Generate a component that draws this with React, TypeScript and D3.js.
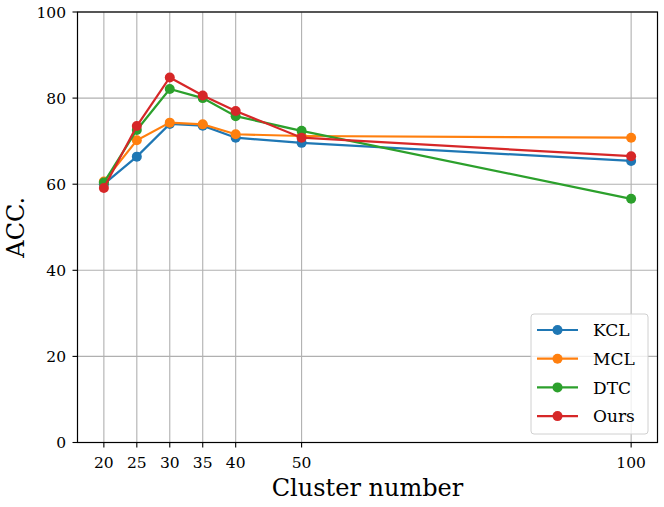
import React, { useEffect, useRef } from 'react';
import * as d3 from 'd3';

const clusters = [20, 25, 30, 35, 40, 50, 100];
const yTicks = [0, 20, 40, 60, 80, 100];

const methods = ['KCL', 'MCL', 'DTC', 'Ours'];
const colors = ['#1f77b4', '#ff7f0e', '#2ca02c', '#d62728'];

const kcl = [60.0, 66.4, 74.0, 73.6, 70.8, 69.6, 65.4];
const mcl = [60.6, 70.2, 74.3, 73.9, 71.6, 71.2, 70.8];
const dtc = [60.4, 72.6, 82.1, 80.0, 75.8, 72.4, 56.6];
const ours = [59.1, 73.5, 84.8, 80.6, 77.0, 70.8, 66.5];

const series = [kcl, mcl, dtc, ours];

const W = 664;
const H = 507;
const font = 'DejaVu Serif';

const App: React.FC = () => {
  const ref = useRef<SVGSVGElement>(null);

  useEffect(() => {
    const svg = d3.select(ref.current);
    svg.selectAll('*').remove();

    const left = 77.5, right = 657.5, top = 12, bottom = 442.5;

    const x = d3.scaleLinear().domain([16, 104]).range([left, right]);
    const y = d3.scaleLinear().domain([0, 100]).range([bottom, top]);

    const g = svg.append('g');

    // grid
    g.selectAll('.vgrid')
      .data(clusters)
      .enter().append('line')
      .attr('x1', d => x(d)).attr('x2', d => x(d))
      .attr('y1', top).attr('y2', bottom)
      .attr('stroke', '#b0b0b0').attr('stroke-width', 1.1);

    g.selectAll('.hgrid')
      .data(yTicks)
      .enter().append('line')
      .attr('x1', left).attr('x2', right)
      .attr('y1', d => y(d)).attr('y2', d => y(d))
      .attr('stroke', '#b0b0b0').attr('stroke-width', 1.1);

    // lines
    const line = d3.line<number>()
      .x((_, i) => x(clusters[i]))
      .y(d => y(d));

    series.forEach((s, k) => {
      g.append('path')
        .datum(s)
        .attr('d', line)
        .attr('fill', 'none')
        .attr('stroke', colors[k])
        .attr('stroke-width', 2.2);
      g.selectAll(`.pt-${k}`)
        .data(s)
        .enter().append('circle')
        .attr('cx', (_, i) => x(clusters[i]))
        .attr('cy', d => y(d))
        .attr('r', 5)
        .attr('fill', colors[k]);
    });

    // frame
    g.append('rect')
      .attr('x', left).attr('y', top)
      .attr('width', right - left).attr('height', bottom - top)
      .attr('fill', 'none').attr('stroke', '#000').attr('stroke-width', 1.2);

    // x ticks
    const xt = g.selectAll('.xt').data(clusters).enter().append('g');
    xt.append('line')
      .attr('x1', d => x(d)).attr('x2', d => x(d))
      .attr('y1', bottom).attr('y2', bottom + 5)
      .attr('stroke', '#000').attr('stroke-width', 1.1);
    xt.append('text')
      .attr('x', d => x(d)).attr('y', bottom + 25.5)
      .attr('text-anchor', 'middle')
      .style('font-family', font).style('font-size', '15.5px')
      .text(d => d);

    // y ticks
    const yt = g.selectAll('.yt').data(yTicks).enter().append('g');
    yt.append('line')
      .attr('x1', left - 5).attr('x2', left)
      .attr('y1', d => y(d)).attr('y2', d => y(d))
      .attr('stroke', '#000').attr('stroke-width', 1.1);
    yt.append('text')
      .attr('x', left - 11.5).attr('y', d => y(d))
      .attr('dy', '0.36em')
      .attr('text-anchor', 'end')
      .style('font-family', font).style('font-size', '15.5px')
      .text(d => d);

    // axis labels
    g.append('text')
      .attr('x', (left + right) / 2).attr('y', 496)
      .attr('text-anchor', 'middle')
      .style('font-family', font).style('font-size', '24px')
      .text('Cluster number');
    g.append('text')
      .attr('transform', `translate(24, ${(top + bottom) / 2}) rotate(-90)`)
      .attr('text-anchor', 'middle')
      .style('font-family', font).style('font-size', '24px')
      .text('ACC.');

    // legend
    const lx = 531, ly = 314;
    g.append('rect')
      .attr('x', lx).attr('y', ly)
      .attr('width', 117).attr('height', 120)
      .attr('rx', 3)
      .attr('fill', 'rgba(255,255,255,0.8)')
      .attr('stroke', '#d0d0d0').attr('stroke-width', 1);
    const lg = g.selectAll('.lg').data(methods).enter().append('g')
      .attr('transform', (_, i) => `translate(0, ${330 + i * 28.7})`);
    lg.append('line')
      .attr('x1', 537).attr('x2', 578)
      .attr('stroke', (_, i) => colors[i]).attr('stroke-width', 2.2);
    lg.append('circle')
      .attr('cx', 557.5).attr('r', 5)
      .attr('fill', (_, i) => colors[i]);
    lg.append('text')
      .attr('x', 593).attr('dy', '0.36em')
      .style('font-family', font).style('font-size', '17px')
      .text(d => d);
  }, []);

  return <svg ref={ref} width={W} height={H} style={{ display: 'block', position: 'absolute', left: 0, top: 0 }} />;
};

export default App;
